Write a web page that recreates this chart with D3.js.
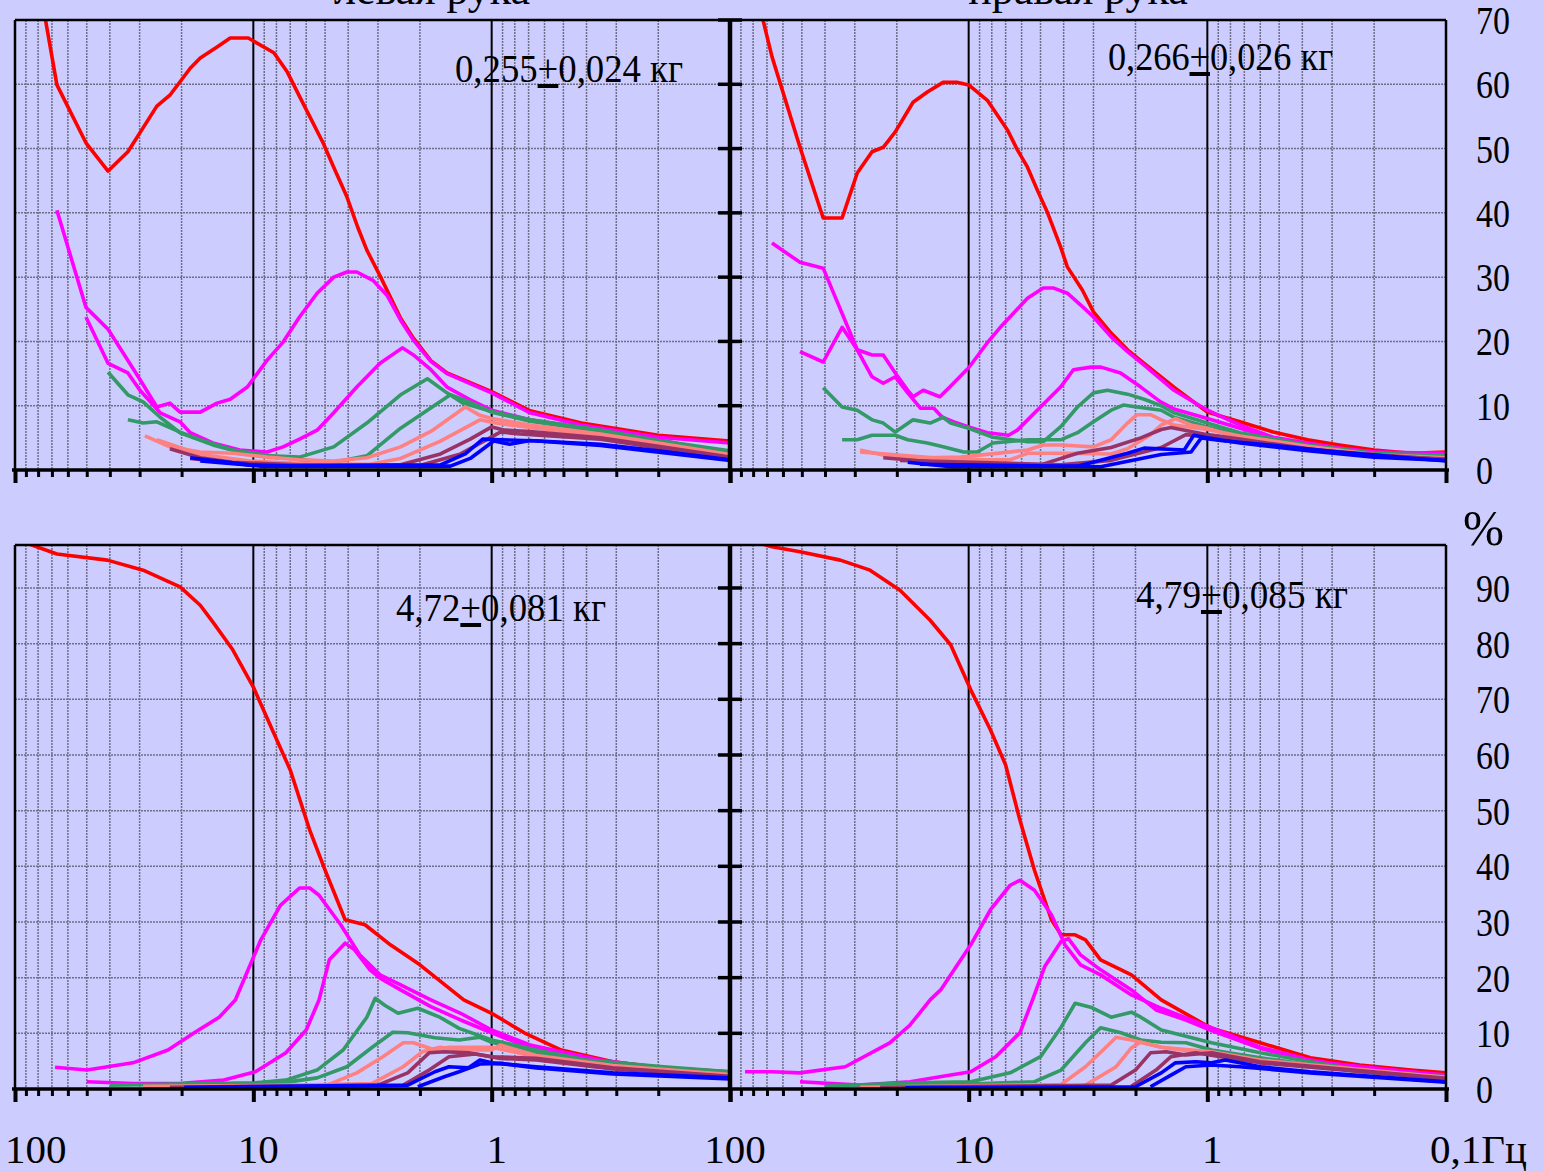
<!DOCTYPE html>
<html>
<head>
<meta charset="utf-8">
<script src="https://cdn.jsdelivr.net/npm/d3@7"></script>
<style>
  html, body { margin: 0; padding: 0; background: #ccccff; }
  svg { display: block; font-family: "Liberation Serif", "Times New Roman", serif; }
</style>
</head>
<body>
<svg id="chart" width="1544" height="1172"></svg>
<script>
// ---- data: [frequency Hz, percent] ----
const tlRed = [[100,97],[66.7,59.9],[50.4,50.9],[40.7,46.5],[33.6,49.5],[25.4,56.6],[22.4,58.3],[18.4,62.5],[16.7,64.1],[14.2,65.8],[12.5,67.2],[10.5,67.2],[8.2,64.9],[7.2,61.9],[6.2,57.1],[5.1,50.9],[4.6,47.1],[4.05,42.5],[3.65,37.8],[3.34,34.2],[2.94,30.2],[2.41,23.6],[2.13,20.5],[1.8,17.0],[1.54,15.1],[1.0,12.2],[0.69,9.2],[0.42,7.3],[0.2,5.4],[0.1,4.5]];
const tlMagA = [[66.7,40.4],[50.4,25.3],[40.7,21.9],[30.4,14.5],[25.4,9.8],[22.4,10.4],[20.3,9.0],[16.7,9.0],[14.2,10.4],[12.5,11.0],[10.6,12.9],[8.75,17.1],[7.5,19.9],[6.4,23.8],[5.4,27.5],[4.6,30.0],[4.05,30.8],[3.68,30.8],[3.15,29.5],[2.75,27.2],[2.41,23.3],[2.13,20.2],[1.8,16.9],[1.54,15.0],[1.0,12.0],[0.69,8.9],[0.42,7.0],[0.2,5.1],[0.1,4.2]];
const tlMagB = [[50.4,23.8],[40.7,16.6],[33.6,15.1],[29.9,12.4],[24.6,8.9],[20.3,7.5],[18.4,5.8],[14.8,4.2],[11.4,3.1],[8.75,2.8],[7.5,3.6],[6.4,4.8],[5.4,6.2],[4.6,8.9],[3.68,12.9],[2.94,16.6],[2.37,19.0],[2.13,17.9],[1.8,15.6],[1.54,12.9],[1.23,10.9],[1.0,9.3],[0.69,7.8],[0.35,6.2],[0.2,4.7],[0.1,2.6]];
const tlGreenA = [[40.7,15.2],[33.6,11.7],[29.0,10.6],[24.6,8.2],[20.3,5.8],[14.8,3.9],[11.4,2.8],[8.5,2.2],[6.4,2.0],[4.6,3.6],[3.34,7.3],[2.41,11.7],[1.86,14.2],[1.54,12.0],[1.32,10.4],[1.0,9.1],[0.69,7.8],[0.35,6.2],[0.2,4.6],[0.1,3.0]];
const tlGreenB = [[33.6,7.8],[29.0,7.3],[25.4,7.5],[20.3,5.9],[16.7,4.7],[12.2,3.1],[8.75,2.3],[6.4,1.6],[4.6,1.2],[3.34,2.2],[2.41,6.5],[2.0,8.5],[1.49,11.7],[1.23,10.5],[1.0,9.0],[0.69,7.6],[0.35,6.0],[0.2,4.5],[0.1,2.8]];
const tlSalmonA = [[28.5,5.3],[22.4,3.6],[16.7,2.8],[12.2,2.6],[8.75,2.0],[6.4,1.6],[4.6,1.4],[3.34,1.9],[2.41,3.6],[1.8,6.0],[1.29,9.8],[1.12,8.5],[1.0,8.0],[0.69,7.0],[0.35,5.6],[0.2,4.2],[0.1,2.4]];
const tlSalmonB = [[25.4,4.7],[16.7,2.4],[10.3,1.4],[6.4,1.0],[3.24,0.9],[2.41,1.8],[1.64,4.5],[1.12,7.8],[0.96,7.3],[0.69,6.6],[0.35,5.3],[0.2,4.0],[0.1,2.2]];
const tlPlumA = [[22.4,3.3],[16.7,1.9],[12.2,1.2],[6.4,0.8],[2.41,0.8],[1.64,2.5],[1.23,4.8],[1.0,6.7],[0.88,6.2],[0.69,6.0],[0.35,5.0],[0.2,3.7],[0.1,2.0]];
const tlPlumB = [[18.4,1.8],[10.3,0.8],[2.0,0.7],[1.35,2.5],[0.92,5.9],[0.76,5.6],[0.35,4.8],[0.1,1.8]];
const tlBlueA = [[18.4,1.9],[10.3,0.8],[6.4,0.6],[1.64,0.8],[1.29,2.5],[1.09,4.8],[0.92,4.7],[0.63,4.5],[0.35,4.0],[0.2,3.0],[0.1,1.6]];
const tlBlueB = [[16.7,1.4],[9.3,0.6],[1.49,0.6],[1.23,1.8],[0.98,4.5],[0.84,4.0],[0.69,4.6],[0.35,3.8],[0.1,1.5]];

const trRed = [[100,91],[66.7,64.3],[50.9,50.2],[40.7,39.2],[33.9,39.2],[29.3,46.2],[25.4,49.5],[22.8,50.2],[20.3,52.6],[17.1,57.2],[14.9,58.8],[12.8,60.3],[11.2,60.3],[10.0,59.9],[8.35,57.5],[6.88,52.9],[6.25,49.8],[5.67,47.1],[5.15,43.5],[4.67,40.0],[4.12,34.7],[3.86,31.6],[3.34,28.0],[3.0,24.6],[2.53,21.3],[2.16,18.7],[1.84,16.6],[1.38,12.9],[1.0,9.0],[0.73,7.5],[0.53,5.9],[0.38,4.7],[0.28,3.9],[0.2,3.1],[0.14,2.6],[0.1,2.8]];
const trMagA = [[66.7,35.3],[50.9,32.3],[40.7,31.4],[29.3,18.7],[25.4,14.5],[22.8,13.5],[20.3,14.5],[18.0,12.0],[15.9,9.6],[14.0,9.6],[12.9,8.2],[11.6,7.5],[10.0,6.7],[8.35,5.8],[6.8,5.4],[6.25,6.2],[5.0,9.8],[4.12,12.9],[3.64,15.6],[3.07,16.0],[2.79,16.0],[2.31,15.1],[1.9,12.9],[1.57,10.6],[1.38,9.5],[1.0,8.0],[0.73,6.5],[0.53,5.0],[0.38,4.0],[0.28,3.3],[0.2,2.8],[0.1,2.3]];
const trMagB = [[50.9,18.4],[40.7,16.8],[33.9,22.2],[29.3,18.7],[25.4,17.9],[22.8,17.9],[20.3,15.1],[18.0,12.4],[17.1,11.4],[15.5,12.4],[13.2,11.4],[12.0,12.9],[10.0,15.9],[8.35,19.8],[7.37,22.2],[5.67,26.7],[4.87,28.3],[4.4,28.3],[3.86,27.5],[3.31,25.3],[3.0,23.8],[2.53,20.7],[2.16,18.4],[1.84,16.3],[1.38,12.4],[1.0,9.3],[0.73,7.0],[0.53,5.1],[0.38,4.2],[0.28,3.4],[0.2,2.8],[0.1,2.6]];
const trGreenA = [[40.7,12.8],[33.9,9.8],[29.3,9.3],[25.4,7.8],[22.8,7.3],[20.3,5.9],[17.1,7.8],[14.5,7.3],[12.8,8.2],[11.9,7.3],[10.0,6.5],[7.9,5.1],[5.67,4.4],[4.87,4.4],[4.12,6.7],[3.5,9.8],[3.0,12.0],[2.62,12.4],[2.16,11.8],[1.84,11.0],[1.56,10.0],[1.38,8.9],[1.0,7.3],[0.73,5.8],[0.38,3.9],[0.2,2.6],[0.1,2.3]];
const trGreenB = [[33.9,4.7],[29.3,4.7],[25.4,5.4],[20.3,5.4],[18.0,4.7],[14.9,4.2],[12.8,3.6],[10.5,2.8],[9.2,2.8],[7.9,4.2],[5.67,4.7],[4.12,4.7],[3.5,5.8],[3.0,7.5],[2.53,9.3],[2.25,10.1],[1.97,9.8],[1.56,9.3],[1.38,8.2],[1.0,6.7],[0.73,5.5],[0.38,3.7],[0.2,2.5],[0.1,2.0]];
const trSalmonA = [[28.5,3.1],[20.7,2.0],[14.9,1.9],[10.8,2.0],[5.67,3.1],[4.87,3.9],[4.12,3.9],[3.0,3.6],[2.53,4.7],[2.16,7.3],[1.97,8.6],[1.73,8.6],[1.56,7.8],[1.38,7.0],[1.0,6.3],[0.73,5.3],[0.38,3.7],[0.2,2.4],[0.1,1.9]];
const trSalmonB = [[28.5,2.8],[12.8,1.8],[9.2,1.6],[6.7,1.6],[5.67,2.6],[4.12,2.6],[2.53,2.5],[2.16,3.3],[1.73,5.5],[1.56,7.0],[1.36,8.0],[1.17,7.0],[1.0,6.5],[0.73,5.0],[0.38,3.5],[0.2,2.3],[0.1,1.8]];
const trPlumA = [[22.8,1.9],[11.9,1.0],[5.0,0.8],[3.5,2.6],[2.53,3.5],[1.9,5.0],[1.56,6.3],[1.42,6.6],[1.17,6.0],[1.0,5.5],[0.73,4.8],[0.38,3.3],[0.2,2.2],[0.1,1.7]];
const trPlumB = [[19.4,1.5],[4.12,0.8],[2.53,1.5],[1.56,3.5],[1.23,5.5],[1.0,5.2],[0.73,4.6],[0.38,3.2],[0.1,1.6]];
const trBlueA = [[18.0,1.2],[11.9,0.5],[3.5,0.6],[2.16,2.6],[1.84,3.4],[1.25,3.1],[1.14,5.4],[1.0,5.0],[0.73,4.2],[0.38,3.0],[0.2,2.0],[0.1,1.5]];
const trBlueB = [[16.0,0.9],[2.8,0.5],[1.56,2.4],[1.17,2.8],[1.06,5.0],[0.88,4.6],[0.55,3.9],[0.28,2.8],[0.1,1.4]];

const blRed = [[100,98.8],[66.7,96.1],[41,95.0],[29,93.2],[20.3,90.2],[16.7,86.9],[14.8,83.9],[12.2,78.9],[10,72.2],[8.5,65.4],[7.0,57.3],[5.8,46.5],[5.0,39.3],[4.12,30.4],[3.4,29.5],[2.66,25.9],[2.0,22.3],[1.31,16.0],[1.0,13.6],[0.73,10.1],[0.51,7.0],[0.31,4.9],[0.19,3.8],[0.1,3.1]];
const blMagA = [[67.9,3.9],[49.9,3.4],[32,4.7],[22.8,7.0],[17.7,10.1],[13.9,12.9],[11.9,16.0],[9.3,26.8],[7.7,33.0],[6.4,36.1],[5.8,36.1],[5.3,34.8],[4.3,29.5],[3.58,24.1],[2.94,20.5],[2.41,18.7],[1.8,16.0],[1.35,13.6],[1.0,10.6],[0.69,7.9],[0.35,5.2],[0.216,4.0],[0.1,2.9]];
const blMagB = [[50,1.3],[32,1.0],[20.5,1.0],[13.3,1.6],[9.8,3.1],[7.3,6.5],[6.0,10.6],[5.3,16.0],[4.8,23.2],[4.12,26.2],[3.76,25.0],[3.24,21.4],[2.94,19.9],[2.41,17.8],[1.8,14.8],[1.35,12.4],[1.0,10.1],[0.69,7.4],[0.35,4.7],[0.1,2.5]];
const blGreenA = [[39.9,0.7],[9.8,1.1],[7.3,1.6],[5.4,3.4],[4.2,7.0],[3.34,12.9],[3.08,16.3],[2.8,15.0],[2.47,13.6],[2.04,14.5],[1.65,12.9],[1.37,10.9],[1.0,8.8],[0.65,7.0],[0.4,5.2],[0.19,4.0],[0.1,3.1]];
const blGreenB = [[16.7,0.5],[7.6,1.1],[5.4,2.0],[4.05,4.0],[3.17,7.5],[2.6,10.2],[2.25,10.1],[1.73,9.2],[1.37,8.8],[1.12,9.3],[1.0,8.4],[0.65,6.5],[0.31,4.3],[0.1,2.9]];
const blSalmonA = [[29,0.5],[4.9,0.7],[3.68,2.9],[2.86,5.8],[2.35,8.3],[2.13,8.3],[1.73,7.0],[1.51,7.5],[1.25,7.5],[1.0,7.5],[0.65,5.8],[0.31,4.0],[0.1,2.5]];
const blSalmonB = [[16.7,0.3],[3.17,1.0],[2.35,4.0],[1.95,6.7],[1.65,7.5],[1.37,7.0],[1.0,7.0],[0.92,7.9],[0.65,6.0],[0.31,4.2],[0.1,2.6]];
const blPlumA = [[22.4,0.3],[3.0,0.7],[2.25,2.9],[1.83,6.5],[1.58,6.7],[1.25,6.5],[1.0,5.8],[0.65,5.5],[0.31,3.8],[0.1,2.3]];
const blPlumB = [[2.35,0.7],[1.83,3.4],[1.51,5.8],[1.17,6.3],[0.92,5.5],[0.65,5.2],[0.31,3.6],[0.1,2.2]];
const blBlueA = [[19.5,0.3],[2.25,0.7],[1.73,3.1],[1.51,4.0],[1.25,3.8],[1.12,5.2],[1.0,4.7],[0.65,4.0],[0.31,2.9],[0.1,2.0]];
const blBlueB = [[2.04,0.4],[1.58,2.2],[1.37,3.1],[1.12,4.5],[0.92,4.6],[0.65,3.8],[0.31,2.7],[0.1,1.8]];

const brRed = [[100,99.5],[66.7,97.4],[50.9,96.5],[34.5,95.0],[25.9,93.2],[19.4,89.6],[14.5,84.2],[11.9,79.8],[9.8,71.7],[8.1,64.5],[7.0,58.2],[6.1,48.3],[5.3,39.3],[4.5,30.4],[4.1,27.7],[3.58,27.7],[3.24,26.8],[2.8,23.2],[2.08,20.5],[1.56,16.0],[0.96,10.9],[0.6,8.3],[0.37,5.6],[0.23,4.3],[0.14,3.4],[0.1,2.9]];
const brMagA = [[86.5,3.1],[66.7,3.1],[50.9,2.9],[32.9,4.0],[21.4,8.3],[17.6,11.5],[14.5,16.0],[13.1,17.8],[9.8,25.9],[8.1,32.2],[6.7,36.6],[6.1,37.5],[5.3,35.7],[4.5,31.3],[3.95,25.9],[3.4,22.3],[2.8,20.5],[2.08,16.9],[1.56,14.5],[0.96,11.0],[0.6,7.5],[0.37,5.2],[0.23,3.8],[0.1,2.5]];
const brMagB = [[50.9,1.3],[28.5,0.7],[17.6,1.3],[11.9,2.5],[9.8,3.1],[7.7,5.8],[6.1,10.1],[5.4,16.0],[4.8,22.0],[4.1,26.5],[3.82,27.0],[3.4,24.1],[2.8,21.4],[2.08,17.8],[1.64,14.2],[1.23,12.4],[0.96,10.5],[0.6,7.3],[0.37,5.0],[0.1,2.4]];
const brGreenA = [[39.9,0.5],[17.6,1.1],[9.8,1.3],[6.7,2.9],[5.0,5.8],[4.1,11.1],[3.58,15.4],[3.08,14.7],[2.53,12.9],[2.08,13.8],[1.9,12.9],[1.56,10.6],[0.96,8.3],[0.6,6.5],[0.37,4.9],[0.23,3.4],[0.1,2.2]];
const brGreenB = [[23.5,0.3],[5.3,1.3],[4.1,3.4],[3.24,8.3],[2.8,11.0],[2.3,10.1],[1.9,8.8],[1.56,8.4],[1.23,8.3],[0.96,7.0],[0.6,5.6],[0.23,3.1],[0.1,2.0]];
const brSalmonA = [[28.5,0.3],[4.1,0.8],[3.24,4.0],[2.66,7.5],[2.41,9.3],[2.08,8.8],[1.56,7.5],[0.96,6.7],[0.6,5.2],[0.1,2.1]];
const brSalmonB = [[3.24,0.7],[2.41,4.0],[2.08,7.4],[1.9,8.4],[1.56,7.5],[0.96,6.3],[0.6,5.0],[0.1,2.0]];
const brPlumA = [[23.5,0.3],[2.53,0.7],[2.0,3.4],[1.73,6.5],[1.49,6.7],[1.23,6.1],[0.96,6.5],[0.6,4.9],[0.1,1.9]];
const brPlumB = [[2.08,0.5],[1.64,3.4],[1.42,5.8],[1.12,6.5],[0.88,5.8],[0.6,4.7],[0.1,1.8]];
const brBlueA = [[18.4,0.2],[2.0,0.4],[1.56,2.9],[1.36,4.7],[1.12,4.9],[0.96,4.7],[0.84,5.2],[0.6,4.0],[0.37,3.1],[0.1,1.3]];
const brBlueB = [[1.73,0.4],[1.42,2.5],[1.23,4.0],[0.96,4.3],[0.73,4.0],[0.37,2.9],[0.1,1.2]];

const xTickLabelsLeft = ["100", "10", "1"];
const xTickLabelsRight = ["100", "10", "1", "0,1"];
const xLabelValues = [100, 10, 1, 0.1];
const yTicksTop = [0, 10, 20, 30, 40, 50, 60, 70];
const yTicksBottom = [0, 10, 20, 30, 40, 50, 60, 70, 80, 90];
const titles = ["левая рука", "правая рука"];
const notes = [
  ["0,255", "+", "0,024 кг"],
  ["0,266", "+", "0,026 кг"],
  ["4,72", "+", "0,081 кг"],
  ["4,79", "+", "0,085 кг"]
];

const colors = {
  red: "#ff0000", magenta: "#ff00ff", green: "#339966",
  salmon: "#ff8080", plum: "#993366", blue: "#0000ff"
};
const order = ["red", "magenta", "magenta", "green", "green", "salmon", "salmon", "plum", "plum", "blue", "blue"];

const panelSeries = [
  [tlRed, tlMagA, tlMagB, tlGreenA, tlGreenB, tlSalmonA, tlSalmonB, tlPlumA, tlPlumB, tlBlueA, tlBlueB],
  [trRed, trMagA, trMagB, trGreenA, trGreenB, trSalmonA, trSalmonB, trPlumA, trPlumB, trBlueA, trBlueB],
  [blRed, blMagA, blMagB, blGreenA, blGreenB, blSalmonA, blSalmonB, blPlumA, blPlumB, blBlueA, blBlueB],
  [brRed, brMagA, brMagB, brGreenA, brGreenB, brSalmonA, brSalmonB, brPlumA, brPlumB, brBlueA, brBlueB]
];

// ---- layout ----
const width = 1544, height = 1172;
const cols = [{ left: 15, right: 730, titleX: 432 }, { left: 730, right: 1446, titleX: 1078 }];
const rows = [
  { top: 20, bottom: 470, y: d3.scaleLinear().domain([0, 70]).range([470, 20]), ticks: yTicksTop },
  { top: 545, bottom: 1089, y: d3.scaleLinear().domain([0, 100]).range([1089, 532.3]), ticks: yTicksBottom }
];
const notePos = [[455, 82, 228], [1108, 70, 225], [396, 621, 210], [1136, 608, 212]];

const svg = d3.select("#chart");
svg.append("rect").attr("width", width).attr("height", height).attr("fill", "#ccccff");

const isDecade = d => Math.abs(Math.log10(d) - Math.round(Math.log10(d))) < 1e-6;
const gridColor = "#6e6e88";

rows.forEach((row, ri) => {
  cols.forEach((col, ci) => {
    const pi = ri * 2 + ci;
    const x = d3.scaleLog().domain([100, 0.1]).range([col.left, col.right]);
    const y = row.y;
    const g = svg.append("g");

    // grid
    const xt = x.ticks();
    g.append("g").selectAll("line")
      .data(xt.filter(d => !isDecade(d)))
      .join("line")
      .attr("x1", d => x(d)).attr("x2", d => x(d))
      .attr("y1", row.top).attr("y2", row.bottom)
      .attr("stroke", gridColor).attr("stroke-width", 1.5)
      .attr("stroke-dasharray", "2,1");
    g.append("g").selectAll("line")
      .data(row.ticks.filter(t => t > 0 && y(t) > row.top + 1))
      .join("line")
      .attr("x1", col.left).attr("x2", col.right)
      .attr("y1", d => y(d)).attr("y2", d => y(d))
      .attr("stroke", gridColor).attr("stroke-width", 1.5)
      .attr("stroke-dasharray", "2,1");
    g.append("g").selectAll("line")
      .data([10, 1])
      .join("line")
      .attr("x1", d => x(d)).attr("x2", d => x(d))
      .attr("y1", row.top).attr("y2", row.bottom)
      .attr("stroke", "#000").attr("stroke-width", 2);

    // series
    const clipId = "clip" + pi;
    svg.append("clipPath").attr("id", clipId)
      .append("rect")
      .attr("x", col.left).attr("y", row.top)
      .attr("width", col.right - col.left).attr("height", row.bottom - row.top);
    const line = d3.line().x(d => x(d[0])).y(d => y(d[1]));
    g.append("g").attr("clip-path", `url(#${clipId})`)
      .selectAll("path")
      .data(panelSeries[pi])
      .join("path")
      .attr("d", line)
      .attr("fill", "none")
      .attr("stroke", (d, i) => colors[order[i]])
      .attr("stroke-width", 3.6)
      .attr("stroke-linejoin", "round");

    // x ticks
    const axis = d3.axisBottom(x).tickValues(xt).tickFormat("").tickSizeOuter(0);
    const ag = g.append("g").attr("transform", `translate(0,${row.bottom})`).call(axis);
    ag.select(".domain").remove();
    ag.selectAll(".tick line")
      .attr("stroke", "#000")
      .attr("y2", d => isDecade(d) ? 13 : 7)
      .attr("stroke-width", d => isDecade(d) ? 4 : 3);

    // x labels (bottom row only)
    if (ri === 1) {
      const labs = ci === 0 ? xTickLabelsLeft : xTickLabelsRight;
      g.append("g").selectAll("text")
        .data(labs)
        .join("text")
        .attr("x", (d, i) => {
          const v = xLabelValues[i];
          if (ci === 0 && i === 0) return x(v) - 10;
          if (ci === 1 && i === 3) return x(v) - 16;
          return x(v) + 5;
        })
        .attr("y", row.bottom + 74)
        .attr("text-anchor", (d, i) => (ci === 0 && i === 0) || (ci === 1 && i === 3) ? "start" : "middle")
        .attr("font-size", 41)
        .text(d => d)
        .filter((d, i) => ci === 1 && i === 3)
        .append("tspan").text("Гц");
    }

    // note
    const [nx, ny, nw] = notePos[pi];
    const nt = g.append("text")
      .attr("x", nx).attr("y", ny)
      .attr("font-size", 40)
      .attr("textLength", nw).attr("lengthAdjust", "spacingAndGlyphs");
    nt.append("tspan").text(notes[pi][0]);
    nt.append("tspan").attr("text-decoration", "underline").text(notes[pi][1]);
    nt.append("tspan").text(notes[pi][2]);
  });

  // frame and axes
  const y = row.y;
  const fg = svg.append("g");
  fg.append("line").attr("x1", cols[0].left).attr("x2", cols[1].right)
    .attr("y1", row.top).attr("y2", row.top).attr("stroke", "#000").attr("stroke-width", 2.5);
  fg.append("line").attr("x1", cols[0].left).attr("x2", cols[0].left)
    .attr("y1", row.top).attr("y2", row.bottom).attr("stroke", "#000").attr("stroke-width", 2.5);
  fg.append("line").attr("x1", cols[1].right).attr("x2", cols[1].right)
    .attr("y1", row.top).attr("y2", row.bottom).attr("stroke", "#000").attr("stroke-width", 2.5);
  fg.append("line").attr("x1", cols[1].left).attr("x2", cols[1].left)
    .attr("y1", row.top).attr("y2", row.bottom).attr("stroke", "#000").attr("stroke-width", 4.5);
  fg.selectAll(".ytick")
    .data(row.ticks.filter(t => t > 0))
    .join("line")
    .attr("x1", cols[1].left - 12).attr("x2", cols[1].left + 12)
    .attr("y1", d => y(d)).attr("y2", d => y(d))
    .attr("stroke", "#000").attr("stroke-width", 3.5);
  fg.append("line").attr("x1", cols[0].left - 3).attr("x2", cols[1].right + 3)
    .attr("y1", row.bottom).attr("y2", row.bottom).attr("stroke", "#000").attr("stroke-width", 3.5);

  // y labels
  fg.selectAll(".ylab")
    .data(row.ticks)
    .join("text")
    .attr("x", 1476)
    .attr("y", d => y(d))
    .attr("dy", "0.35em")
    .attr("font-size", 40)
    .attr("textLength", d => String(d).length * 17)
    .attr("lengthAdjust", "spacingAndGlyphs")
    .text(d => d);
});

// percent sign
svg.append("text").attr("x", 1463).attr("y", 527).attr("dy", "0.35em")
  .attr("font-size", 50).attr("textLength", 41).attr("lengthAdjust", "spacingAndGlyphs")
  .text("%");

// titles (cut at top edge)
svg.selectAll(".title")
  .data(titles)
  .join("text")
  .attr("x", (d, i) => cols[i].titleX)
  .attr("y", 4)
  .attr("text-anchor", "middle")
  .attr("font-size", 44)
  .text(d => d);
</script>
</body>
</html>
